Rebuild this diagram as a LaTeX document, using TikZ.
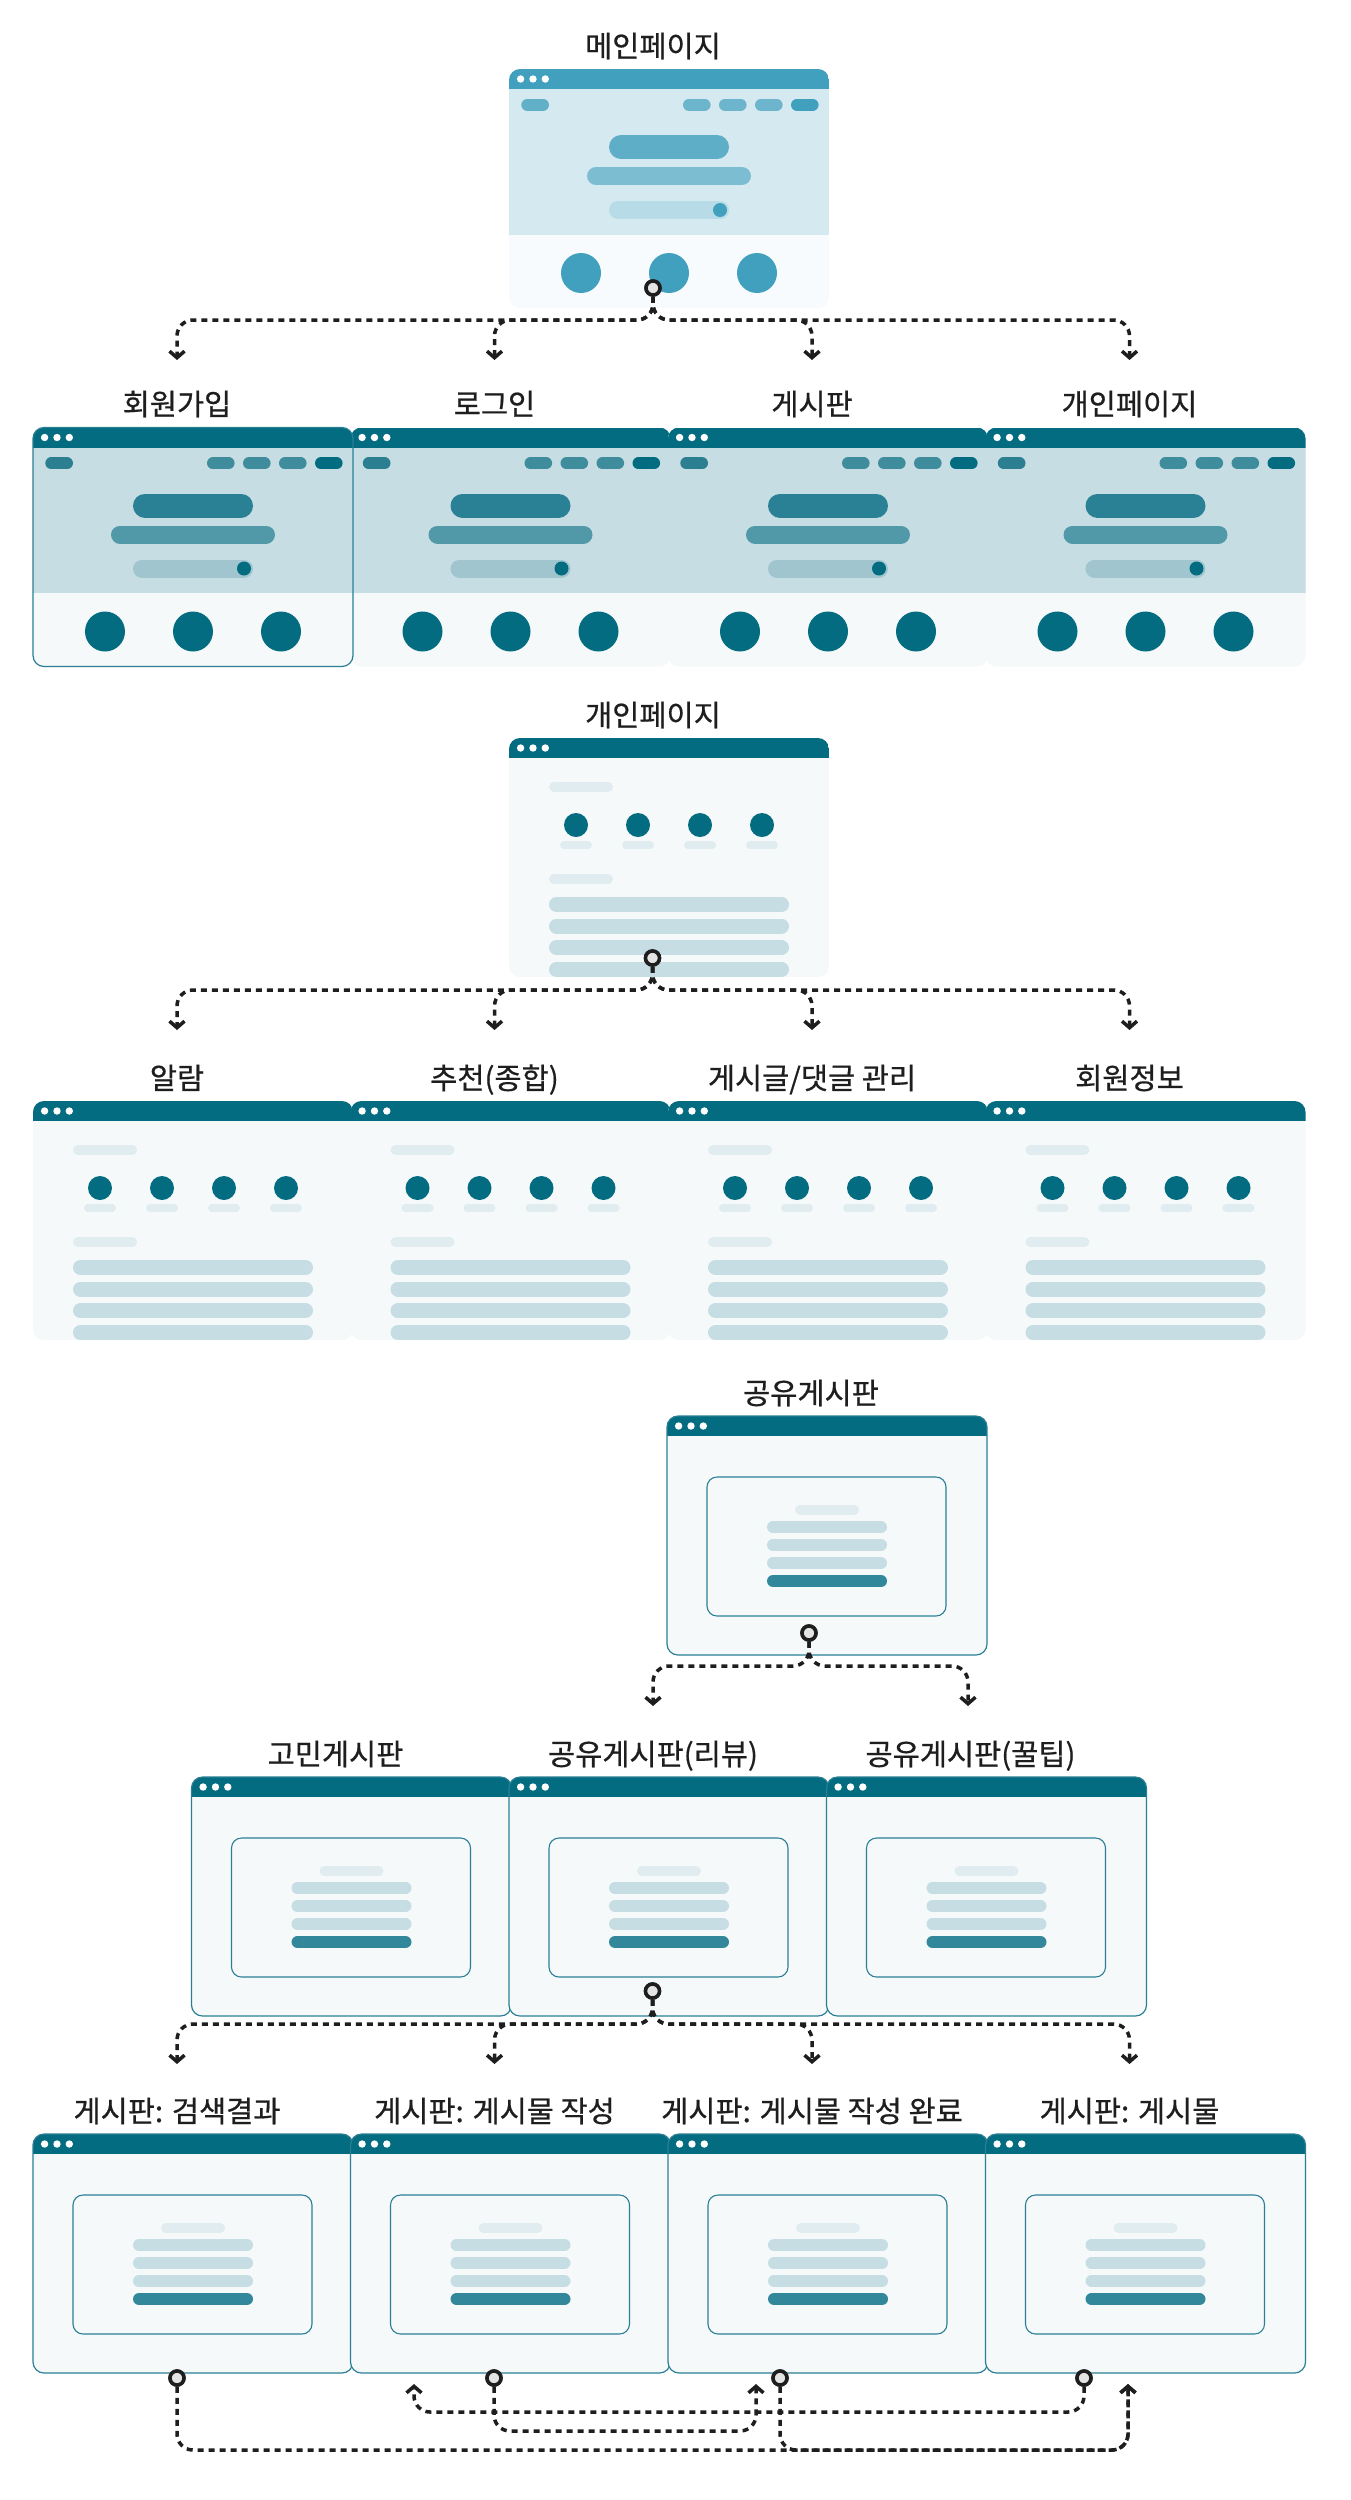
\documentclass[tikz,border=0pt]{standalone}
\usepackage{fontspec}
\setmainfont{Noto Sans CJK KR}
\newfontfamily\lblfont{Noto Sans CJK KR}[FakeBold=0.6]
\usetikzlibrary{arrows.meta}
\definecolor{tdark}{HTML}{046C80}
\definecolor{ttop}{HTML}{C5DDE3}
\definecolor{tleft}{HTML}{2B7F91}
\definecolor{tnav}{HTML}{3F8C9C}
\definecolor{tbig}{HTML}{2A8094}
\definecolor{tmed}{HTML}{5199A8}
\definecolor{tslide}{HTML}{A0C5CF}
\definecolor{tbody}{HTML}{F5F9FA}
\definecolor{tlab}{HTML}{E0ECEF}
\definecolor{tbar}{HTML}{33879A}
\definecolor{tborder}{HTML}{2A7F94}
\definecolor{bdark}{HTML}{42A0BF}
\definecolor{btop}{HTML}{D4E9F0}
\definecolor{bleft}{HTML}{62B0C8}
\definecolor{bnav}{HTML}{6DB5CC}
\definecolor{bbig}{HTML}{5EAEC8}
\definecolor{bmed}{HTML}{7DBDD2}
\definecolor{bslide}{HTML}{B8DCE7}
\definecolor{bbody}{HTML}{F7FBFD}
\definecolor{inkc}{HTML}{1E1E1E}
\definecolor{markfill}{HTML}{E4E4E4}

\newcommand\pill[5]{\draw[#1, line width=#5pt, line cap=round] ({#2+#5/2},#4) -- ({#3-#5/2},#4);}
\newcommand\windots{\foreach \dx in {11.6,24,36.3} {\fill[white] (\dx,10) circle (3.7pt);}}
\newcommand\landwin[4]{%
\begin{scope}[shift={(#1,#2)}]
  \begin{scope}
    \clip[rounded corners=11pt] (0,0) rectangle (320,239);
    \fill[#3body] (0,0) rectangle (320,239);
    \fill[#3top] (0,20) rectangle (320,165.5);
    \fill[#3dark] (0,0) rectangle (320,20);
  \end{scope}
  \windots
  \pill{#3left}{12.3}{40}{35.8}{11.7}
  \pill{#3nav}{174}{201.6}{35.8}{11.7}
  \pill{#3nav}{210}{237.6}{35.8}{11.7}
  \pill{#3nav}{246}{273.6}{35.8}{11.7}
  \pill{#3dark}{282}{309.6}{35.8}{11.7}
  \pill{#3big}{100}{220}{78}{24}
  \pill{#3med}{78}{242}{107}{18}
  \pill{#3slide}{100}{220}{141}{18}
  \fill[#3dark] (211,141) circle (7pt);
  \foreach \cx in {72,160,248} {\fill[#3dark] (\cx,204) circle (20pt);}
  \ifnum#4=1 \draw[tborder, line width=1.2pt, rounded corners=11pt] (0,0) rectangle (320,239);\fi
\end{scope}}
\newcommand\perswin[2]{%
\begin{scope}[shift={(#1,#2)}]
  \begin{scope}
    \clip[rounded corners=11pt] (0,0) rectangle (320,239);
    \fill[tbody] (0,0) rectangle (320,239);
    \fill[tdark] (0,0) rectangle (320,20);
  \end{scope}
  \windots
  \pill{tlab}{40}{104}{49}{10}
  \foreach \cx in {67,129,191,253} {
    \fill[tdark] (\cx,87) circle (12pt);
    \pill{tlab}{\cx-16}{\cx+16}{107}{8}
  }
  \pill{tlab}{40}{104}{141}{10}
  \foreach \ry in {166.5,188,209.7,231.5} {\pill{ttop}{40}{280}{\ry}{15}}
\end{scope}}
\newcommand\boardwin[2]{%
\begin{scope}[shift={(#1,#2)}]
  \begin{scope}
    \clip[rounded corners=11pt] (0,0) rectangle (320,239);
    \fill[tbody] (0,0) rectangle (320,239);
    \fill[tdark] (0,0) rectangle (320,20);
  \end{scope}
  \windots
  \draw[tborder, line width=1.1pt, fill=tbody, rounded corners=10pt] (40,61) rectangle (279,200);
  \pill{tlab}{128}{192}{94}{10}
  \foreach \ry in {111,129,147} {\pill{ttop}{100}{220}{\ry}{12}}
  \pill{tbar}{100}{220}{165}{12}
  \draw[tborder, line width=1.2pt, rounded corners=11pt] (0,0) rectangle (320,239);
\end{scope}}

\tikzset{
  lbl/.style={anchor=base, inner sep=0pt, text=inkc, font=\lblfont\fontsize{29.5}{31}\selectfont},
  portmark/.style={circle, draw=inkc, fill=markfill, line width=3.5pt, minimum size=14pt, inner sep=0pt},
  conn/.style={draw=inkc, line width=3.5pt, dash pattern=on 6pt off 5pt, rounded corners=16pt,
    -{Straight Barb[length=6.5pt,width=15pt]}},
}

\begin{document}
\begin{tikzpicture}[x=1pt,y=-1pt]
\useasboundingbox (0,0) rectangle (1350,2500);
\fill[white] (0,0) rectangle (1350,2500);

% ---------- row 1 / 2 ----------
\landwin{509}{69}{b}{0}
\landwin{350.5}{427.5}{t}{0}
\landwin{668}{427.5}{t}{0}
\landwin{985.5}{427.5}{t}{0}
\landwin{33}{427.5}{t}{1}
\node[lbl] (lmain) at (653,57) {메인페이지};
\node[lbl] (lsign) at (177,415) {회원가입};
\node[lbl] (llogin) at (494.5,415) {로그인};
\node[lbl] (lboard) at (812,415) {게시판};
\node[lbl] (lmy) at (1129.5,415) {개인페이지};

% ---------- row 3 / 4 ----------
\perswin{509}{738}
\perswin{33}{1101}
\perswin{350.5}{1101}
\perswin{668}{1101}
\perswin{985.5}{1101}
\node[lbl] (lmy2) at (653,726) {개인페이지};
\node[lbl] (lalarm) at (177,1089) {알람};
\node[lbl] (lrec) at (494.5,1089) {추천(종합)};
\node[lbl] (lpost) at (812,1089) {게시글/댓글 관리};
\node[lbl] (linfo) at (1129.5,1089) {회원정보};

% ---------- row 5 / 6 / 7 ----------
\boardwin{667}{1416}
\boardwin{191.5}{1777}
\boardwin{509}{1777}
\boardwin{826.5}{1777}
\boardwin{33}{2134}
\boardwin{350.5}{2134}
\boardwin{668}{2134}
\boardwin{985.5}{2134}
\node[lbl] (lshare) at (811,1404) {공유게시판};
\node[lbl] (lworry) at (335.5,1765) {고민게시판};
\node[lbl] (lreview) at (653,1765) {공유게시판(리뷰)};
\node[lbl] (ltip) at (970.5,1765) {공유게시판(꿀팁)};
\node[lbl] (lsearch) at (177,2122) {게시판: 검색결과};
\node[lbl] (lwrite) at (494.5,2122) {게시판: 게시물 작성};
\node[lbl] (ldone) at (812,2122) {게시판: 게시물 작성 완료};
\node[lbl] (lview) at (1129.5,2122) {게시판: 게시물};

% ---------- ports ----------
\coordinate (in-sign) at (177,360);
\coordinate (in-login) at (494.5,360);
\coordinate (in-board) at (812,360);
\coordinate (in-my) at (1129.5,360);
\coordinate (in-alarm) at (177,1030);
\coordinate (in-rec) at (494.5,1030);
\coordinate (in-post) at (812,1030);
\coordinate (in-info) at (1129.5,1030);
\coordinate (in-review) at (653,1706);
\coordinate (in-tip) at (968,1706);
\coordinate (in-search) at (177,2064);
\coordinate (in-write) at (494.5,2064);
\coordinate (in-done) at (812,2064);
\coordinate (in-view) at (1129.5,2064);
\coordinate (up-write) at (414,2384);
\coordinate (up-done) at (756,2384);
\coordinate (up-view) at (1128,2384);
\coordinate (h1) at (0,320);
\coordinate (h3) at (0,990);
\coordinate (h5) at (0,1666);
\coordinate (h6) at (0,2024);
\coordinate (hA) at (0,2450);
\coordinate (hB) at (0,2431);
\coordinate (hD) at (0,2412);

% ---------- markers ----------
\node[portmark] (pmain) at (653,288) {};
\node[portmark] (pmy) at (652.5,958) {};
\node[portmark] (pshare) at (809,1633) {};
\node[portmark] (preview) at (652.5,1991) {};
\node[portmark] (psearch) at (177,2378) {};
\node[portmark] (pwrite) at (494,2378) {};
\node[portmark] (pdone) at (780,2378) {};
\node[portmark] (pview) at (1084,2378) {};

% ---------- connectors ----------
\foreach \t in {sign,login,board,my}
  {\draw[conn] (pmain.south) |- (in-\t |- h1) -- (in-\t);}
\foreach \t in {alarm,rec,post,info}
  {\draw[conn] (pmy.south) |- (in-\t |- h3) -- (in-\t);}
\foreach \t in {review,tip}
  {\draw[conn] (pshare.south) |- (in-\t |- h5) -- (in-\t);}
\foreach \t in {search,write,done,view}
  {\draw[conn] (preview.south) |- (in-\t |- h6) -- (in-\t);}
\draw[conn] (psearch.south) |- (up-view |- hA) -- (up-view);
\draw[conn] (pwrite.south) |- (up-done |- hB) -- (up-done);
\draw[conn] (pdone.south) |- (up-view |- hA) -- (up-view);
\draw[conn] (pview.south) |- (up-write |- hD) -- (up-write);

% markers redrawn on top of connector starts
\foreach \p in {pmain,pmy,pshare,preview,psearch,pwrite,pdone,pview}
  {\node[portmark] at (\p.center) {};}
\end{tikzpicture}
\end{document}
